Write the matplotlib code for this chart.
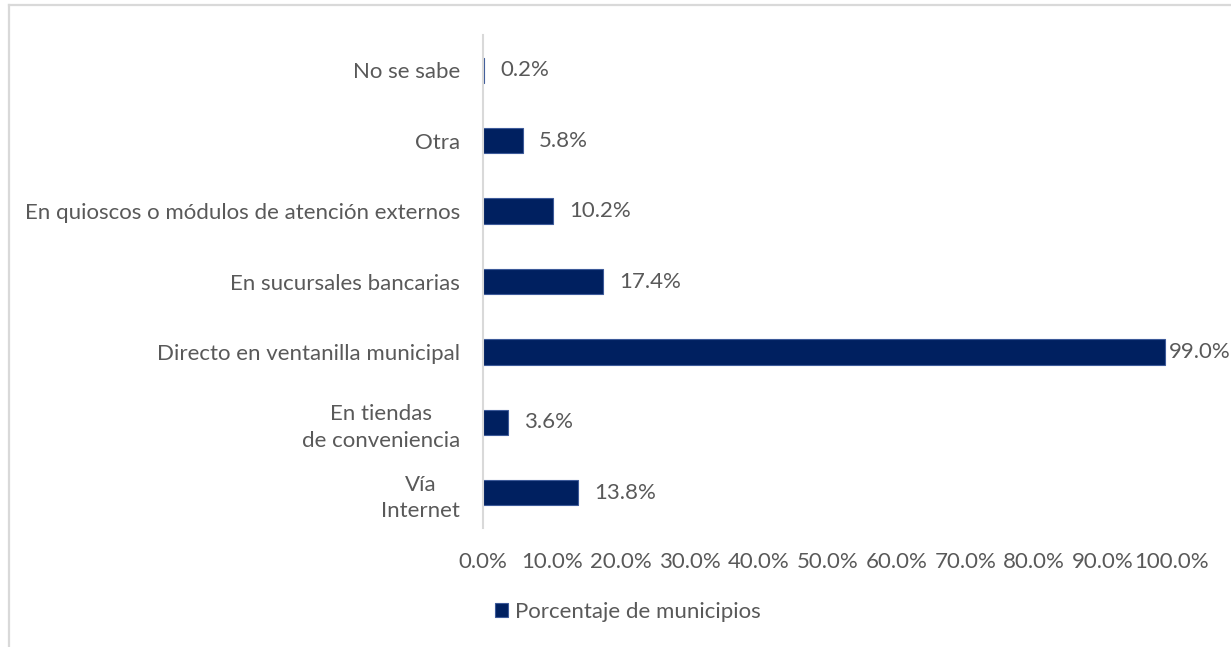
import matplotlib.pyplot as plt
from matplotlib.lines import Line2D
from matplotlib.patches import Patch
import numpy as np

# categorias de abajo hacia arriba
categorias = ['Vía\nInternet', 'En tiendas\nde conveniencia', 'Directo en ventanilla municipal',
              'En sucursales bancarias', 'En quioscos o módulos de atención externos',
              'Otra', 'No se sabe']
porcentajes = [13.8, 3.6, 99.0, 17.4, 10.2, 5.8, 0.2]
ticks_x = [0, 10, 20, 30, 40, 50, 60, 70, 80, 90, 100]
serie = 'Porcentaje de municipios'

azul = '#002060'
gris_texto = '#595959'
gris_linea = '#d9d9d9'
fs = 16

plt.rcParams['font.family'] = ['Lato', 'DejaVu Sans']

fig = plt.figure(figsize=(12.31, 6.47), dpi=100)
ax = fig.add_axes([483 / 1231, 1 - 528 / 647, (1172 - 483) / 1231, (528 - 35) / 647])

y = np.arange(len(categorias))
ax.barh(y, porcentajes, height=0.36, color=azul, edgecolor='#3d5a99', linewidth=0.8)

for yi, v in zip(y, porcentajes):
    off = 2.5 if v > 95 else 11.5
    ax.annotate('%.1f%%' % v, (v, yi), xytext=(off, 0), textcoords='offset points',
                va='center', ha='left', fontsize=fs, color=gris_texto)

ax.set_ylim(-0.5, len(categorias) - 0.5)
ax.set_xlim(0, 100)
ax.set_yticks(y)
ax.set_yticklabels(categorias, multialignment='center', linespacing=1.4)
ax.set_xticks(ticks_x)
ax.set_xticklabels(['%.1f%%' % t for t in ticks_x])
ax.tick_params(axis='y', length=0, pad=16.5, labelsize=fs, labelcolor=gris_texto)
ax.tick_params(axis='x', length=0, pad=17, labelsize=fs, labelcolor=gris_texto)

for s in ['top', 'right', 'bottom']:
    ax.spines[s].set_visible(False)
ax.spines['left'].set_color(gris_linea)
ax.spines['left'].set_linewidth(1.5)

# marco del grafico
fig.add_artist(Line2D([8.5 / 1231, 8.5 / 1231], [0, 1 - 5 / 647], transform=fig.transFigure,
                      color=gris_linea, linewidth=1.6))
fig.add_artist(Line2D([8.5 / 1231, 1], [1 - 5 / 647, 1 - 5 / 647], transform=fig.transFigure,
                      color=gris_linea, linewidth=1.6))

fig.legend(handles=[Patch(facecolor=azul, edgecolor='#3d5a99', linewidth=0.8, label=serie)],
           loc='center', bbox_to_anchor=(628 / 1231, 1 - 612 / 647), frameon=False,
           fontsize=fs, labelcolor=gris_texto, handlelength=0.6, handleheight=0.6,
           handletextpad=0.3)

fig.savefig('out.png', dpi=100)
